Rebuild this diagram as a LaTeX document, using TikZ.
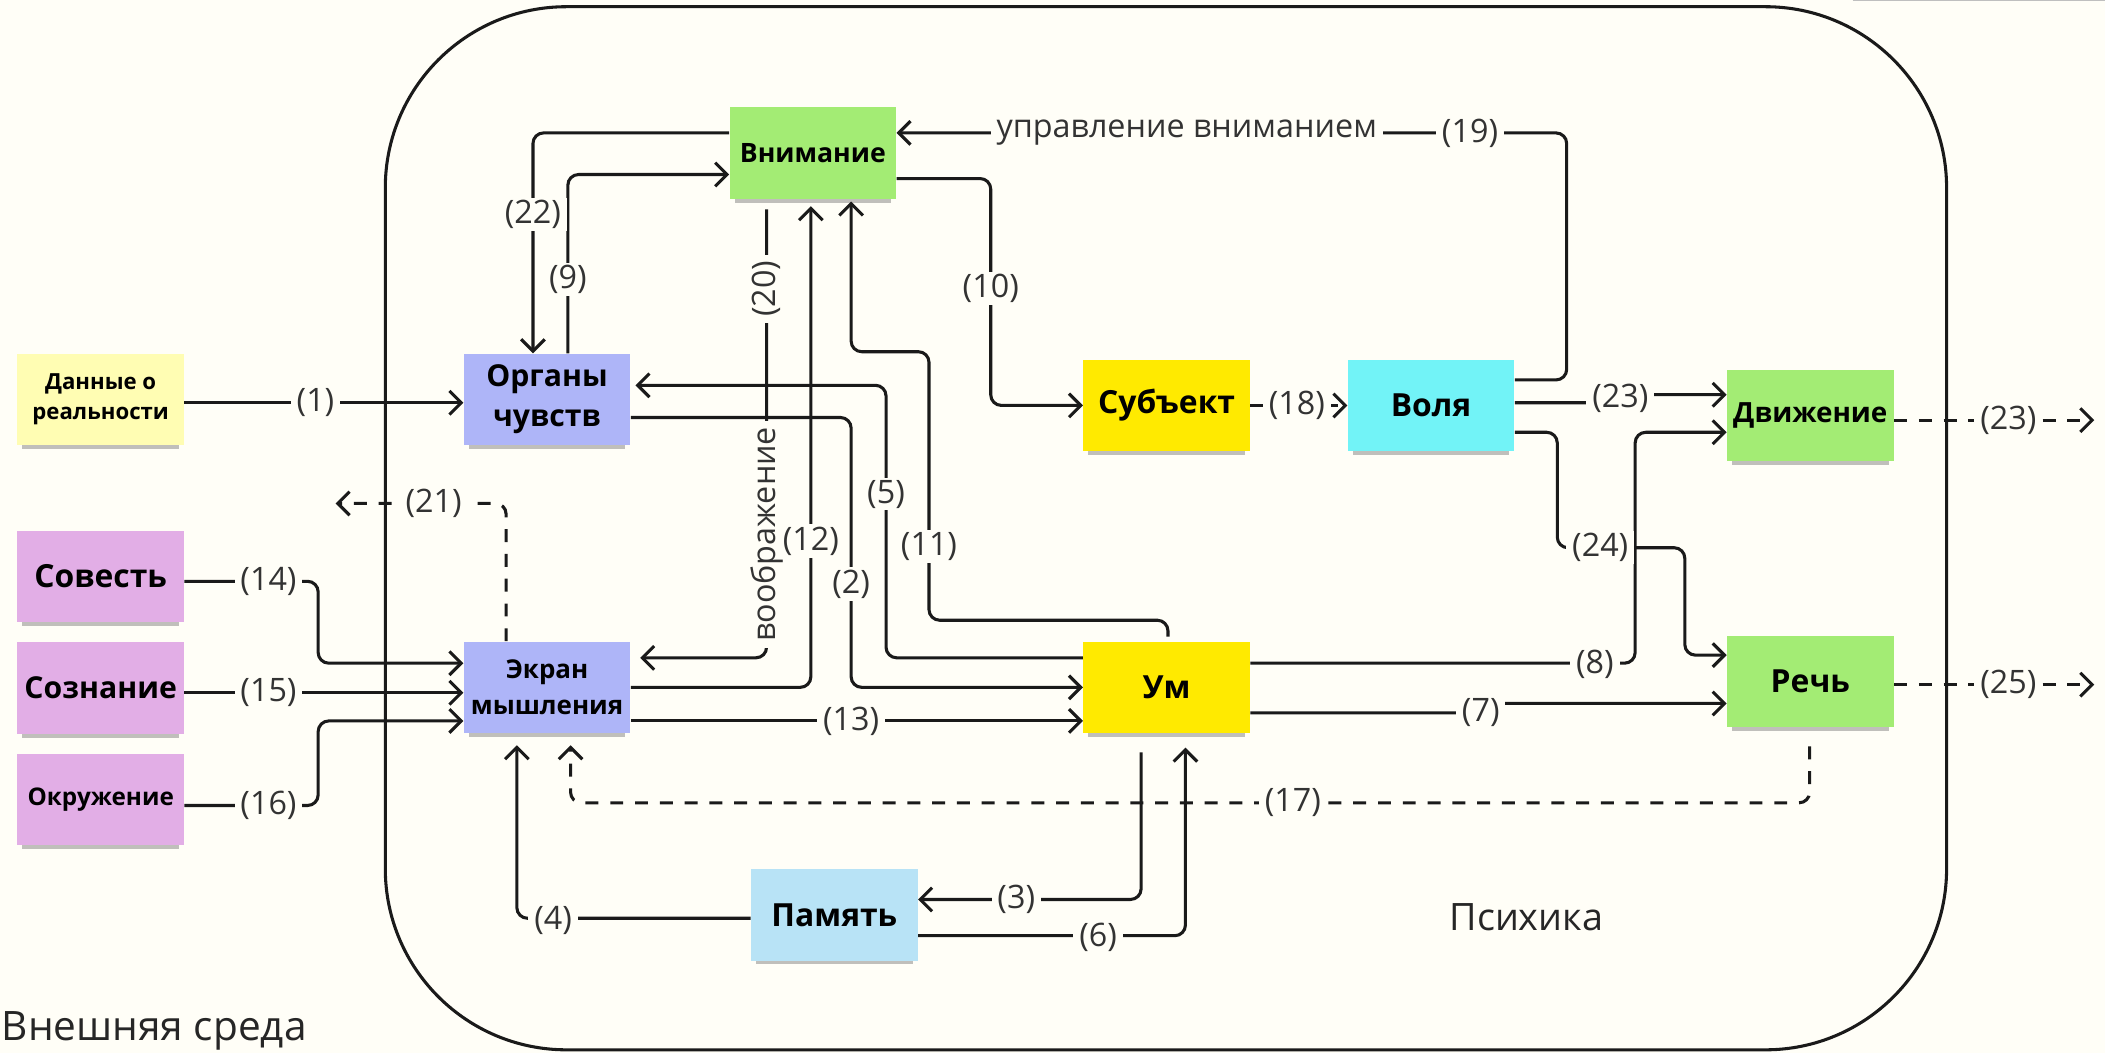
\documentclass[tikz,border=0pt]{standalone}
\usepackage{fontspec}
\setmainfont{Open Sans}
\usetikzlibrary{arrows.meta,shadows}
\definecolor{bgc}{HTML}{FFFEF7}
\definecolor{cyel}{HTML}{FFFDB3}
\definecolor{clav}{HTML}{AEB5F8}
\definecolor{cgrn}{HTML}{A3EC74}
\definecolor{cgold}{HTML}{FFEA00}
\definecolor{ccyan}{HTML}{72F3F7}
\definecolor{cpink}{HTML}{E2AEE6}
\definecolor{csky}{HTML}{B8E3F6}
\definecolor{ink}{HTML}{1A1A1A}
\begin{document}
\begin{tikzpicture}[x=0.02cm,y=-0.02cm,
  box/.style={rectangle, minimum width=2.48cm, minimum height=1.36cm, inner sep=2pt,
    align=center, text=black, draw=none,
    drop shadow={shadow xshift=0pt, shadow yshift=-3pt, shadow scale=0.94, opacity=0.35, fill=black!70}},
  big/.style={font=\fontsize{13.5}{15}\selectfont\bfseries},
  mid/.style={font=\fontsize{11.3}{14}\selectfont\bfseries},
  ln/.style={draw=ink, line width=1.3pt, rounded corners=4.5pt},
  arr/.style={-{Straight Barb[length=5pt,width=10pt]}},
  dsh/.style={dash pattern=on 5.5pt off 5pt},
  lbl/.style={fill=bgc, inner xsep=2.5pt, inner ysep=1pt, text=black!80,
    font=\fontsize{13.7}{15}\selectfont}
]
\fill[bgc] (0,0) rectangle (1568,784);
\useasboundingbox (0,0) rectangle (1568,784);
\draw[black!25, line width=0.6pt] (1380,0.5) -- (1568,0.5);

% nodes
\node[box, fill=cyel, font=\fontsize{9.4}{13}\selectfont\bfseries] (dan) at (75,297.5) {Данные о\\реальности};
\node[box, fill=clav, font=\fontsize{12.8}{17}\selectfont\bfseries] (org) at (407.5,297.5) {Органы\\чувств};
\node[box, fill=cgrn, mid] (vni) at (605.5,114) {Внимание};
\node[box, fill=cgold, big] (sub) at (869,302) {Субъект};
\node[box, fill=ccyan, big] (vol) at (1066,302) {Воля};
\node[box, fill=cgrn, font=\fontsize{11.8}{14}\selectfont\bfseries] (dvi) at (1348.5,309.5) {Движение};
\node[box, fill=cpink, big] (sov) at (75,429.5) {Совесть};
\node[box, fill=cpink, font=\fontsize{12.8}{15}\selectfont\bfseries] (soz) at (75,512.5) {Сознание};
\node[box, fill=cpink, font=\fontsize{10.3}{13}\selectfont\bfseries] (okr) at (75,595.5) {Окружение};
\node[box, fill=clav, font=\fontsize{11}{15}\selectfont\bfseries] (ekr) at (407.5,512) {Экран\\мышления};
\node[box, fill=cgold, big] (um) at (869,512) {Ум};
\node[box, fill=cgrn, big] (rech) at (1348.5,507.5) {Речь};
\node[box, fill=csky, big] (pam) at (621.5,681.5) {Память};

\coordinate (c20) at (571,156);
\coordinate (out21) at (250,375);
\coordinate (out23) at (1560,313);
\coordinate (out25) at (1560,510);

% connectors
\draw[ln,arr] (dan.east |- 0,300) -- (org.west |- 0,300);
\draw[ln,arr] (vni.west |- 0,99) -- (397,99) -- (org.north -| 397,0);
\draw[ln,arr] (org.north -| 423,0) -- (423,130) -- (vni.west |- 0,130);
\draw[ln,arr] (c20) -- (571,490) -- ([xshift=4pt]ekr.east |- 0,490);
\draw[ln,arr] (ekr.east |- 0,512) -- (604,512) -- ([yshift=-3pt]vni.south -| 604,0);
\draw[ln,arr] (org.east |- 0,311) -- (634,311) -- (634,512) -- (um.west |- 0,512);
\draw[ln,arr] (um.west |- 0,490) -- (660,490) -- (660,287) -- ([xshift=2pt]org.east |- 0,287);
\draw[ln,arr] ([yshift=2pt]um.north -| 870,0) -- (870,462) -- (692,462) -- (692,262) -- (634,262) -- ([yshift=-1pt]vni.south -| 634,0);
\draw[ln,arr] (vni.east |- 0,133) -- (738,133) -- (738,302) -- (sub.west |- 0,302);
\draw[ln,dsh,arr] (sub.east) -- (vol.west);
\draw[ln,arr] (vol.east |- 0,283) -- (1167,283) -- (1167,99) -- (vni.east |- 0,99);
\draw[ln,arr] (vol.east |- 0,300) -- (1207,300) -- (1207,294) -- (dvi.west |- 0,294);
\draw[ln,arr] (vol.east |- 0,322) -- (1160,322) -- (1160,408) -- (1255,408) -- (1255,488) -- (rech.west |- 0,488);
\draw[ln,arr] (um.east |- 0,494) -- (1218,494) -- (1218,322) -- (dvi.west |- 0,322);
\draw[ln,arr] (um.east |- 0,531) -- (1103,531) -- (1103,524) -- (rech.west |- 0,524);
\draw[ln,arr] (ekr.east |- 0,537) -- (um.west |- 0,537);
\draw[ln,arr] (sov.east |- 0,433) -- (237,433) -- (237,494) -- (ekr.west |- 0,494);
\draw[ln,arr] (soz.east |- 0,516) -- (ekr.west |- 0,516);
\draw[ln,arr] (okr.east |- 0,600) -- (237,600) -- (237,537) -- (ekr.west |- 0,537);
\draw[ln,dsh,arr] (ekr.north -| 377,0) -- (377,375) -- (out21);
\draw[ln,dsh,arr] ([yshift=-8pt]rech.south -| 1348,0) -- (1348,598) -- (425,598) -- ([yshift=-5pt]ekr.south -| 425,0);
\draw[ln,arr] (pam.west |- 0,684) -- (385,684) -- ([yshift=-5pt]ekr.south -| 385,0);
\draw[ln,arr] ([yshift=-8pt]um.south -| 850,0) -- (850,670) -- (pam.east |- 0,670);
\draw[ln,arr] (pam.east |- 0,697) -- (883,697) -- ([yshift=-6pt]um.south -| 883,0);
\draw[ln,dsh,arr] (dvi.east |- 0,313) -- (out23);
\draw[ln,dsh,arr] (rech.east |- 0,510) -- (out25);

% labels
\node[lbl] (l1) at (235,300) {(1)};
\node[lbl] (l22) at (397,160) {(22)};
\node[lbl] (l9) at (423,208) {(9)};
\node[lbl, rotate=90] (l20) at (571,215) {(20)};
\node[lbl, rotate=90] (limag) at (571,398) {воображение};
\node[lbl] (l12) at (604,403) {(12)};
\node[lbl] (l2) at (634,435) {(2)};
\node[lbl] (l5) at (660,368) {(5)};
\node[lbl] (l11) at (692,407) {(11)};
\node[lbl] (l10) at (738,215) {(10)};
\node[lbl] (l18) at (966,302) {(18)};
\node[lbl] (lupr) at (884,99) {управление вниманием};
\node[lbl] (l19) at (1095,99) {(19)};
\node[lbl] (l23a) at (1207,297) {(23)};
\node[lbl] (l24) at (1192,408) {(24)};
\node[lbl] (l8) at (1188,495) {(8)};
\node[lbl] (l7) at (1103,531) {(7)};
\node[lbl] (l13) at (634,537) {(13)};
\node[lbl] (l14) at (200,433) {(14)};
\node[lbl] (l15) at (200,516) {(15)};
\node[lbl] (l16) at (200,600) {(16)};
\node[lbl] (l21) at (323,375) {(21)};
\node[lbl] (l17) at (963,598) {(17)};
\node[lbl] (l4) at (412,686) {(4)};
\node[lbl] (l3) at (757,670) {(3)};
\node[lbl] (l6) at (818,698) {(6)};
\node[lbl] (l23b) at (1496,313) {(23)};
\node[lbl] (l25) at (1496,510) {(25)};

% container and titles
\draw[ink, line width=1.3pt, rounded corners=2.7cm] (287,5) rectangle (1450,782);
\node[anchor=base west, inner sep=0pt, text=black!85, font=\fontsize{17.2}{19}\selectfont] (ext) at (1,775) {Внешняя среда};
\node[text=black!85, font=\fontsize{16}{18}\selectfont] (psy) at (1137,683) {Психика};
\end{tikzpicture}
\end{document}
